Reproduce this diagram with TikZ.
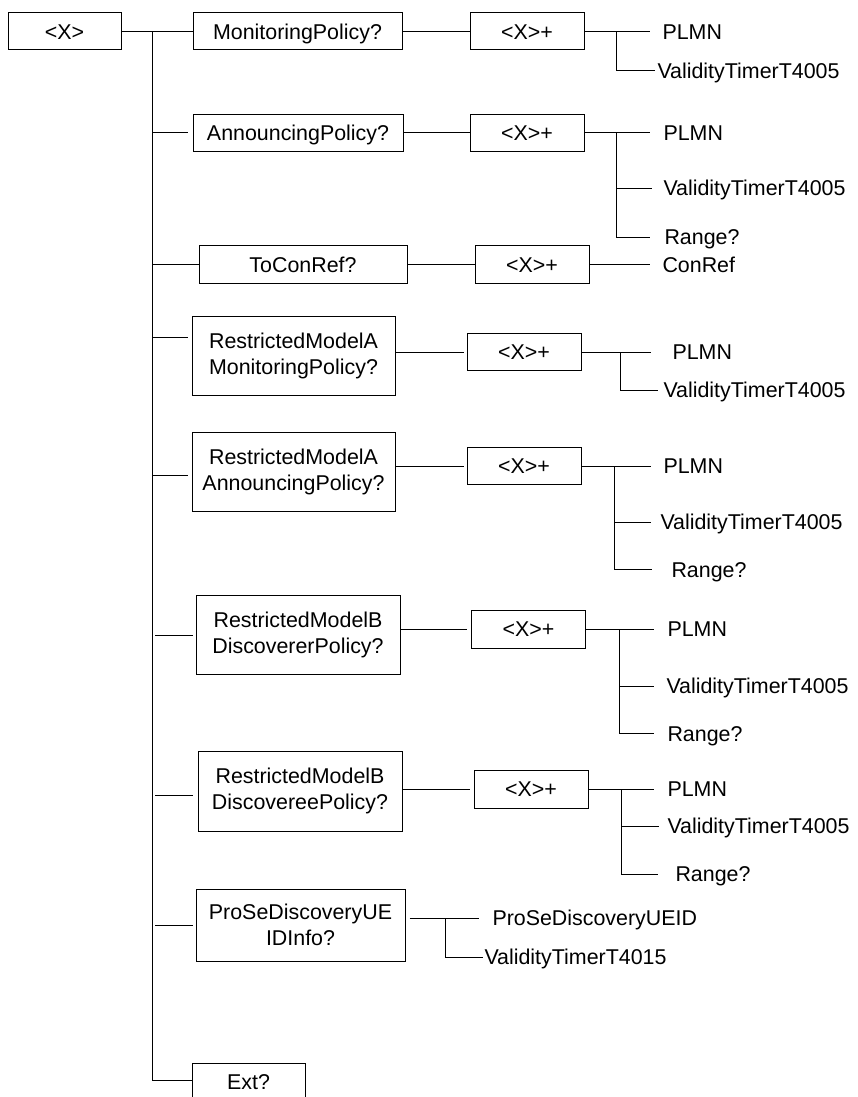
\documentclass[tikz,border=0pt]{standalone}
\usepackage{fontspec}
\setmainfont{Liberation Sans}
\newcommand{\labfont}{\fontsize{21.4pt}{26pt}\selectfont}

\begin{document}
\begin{tikzpicture}
        [x=1pt, y=-1pt, line width=1pt,
        box/.style={draw, inner sep=0pt, align=center, font=\labfont},
        single/.style={box, text height=15.3pt, text depth=0pt, minimum height=37pt},
        double/.style={box, minimum width=203pt, minimum height=79pt},
        rep/.style={single, minimum width=114pt},
        leaf/.style={anchor=west, inner ysep=0pt, inner xsep=#1, text height=15.3pt, text depth=0pt, font=\labfont},
        leaf/.default=12pt,
        stub/.style={shorten >=#1}]

        \useasboundingbox (0,0) rectangle (858,1097);

        % root and first level boxes
        \node[single, minimum width=113pt] (root) at (64.5,31.5) {<X>};
        \node[single, minimum width=209pt] (mp) at (297.5,31.5) {MonitoringPolicy?};
        \node[single, minimum width=210pt] (ap) at (298,133) {AnnouncingPolicy?};
        \node[single, minimum width=208pt, minimum height=38pt] (tc) at (303,264.5) {ToConRef?};
        \node[double] (rmam) at (293.5,355.5) {RestrictedModelA\\MonitoringPolicy?};
        \node[double] (rmaa) at (293.5,471.5) {RestrictedModelA\\AnnouncingPolicy?};
        \node[double, minimum width=204pt] (rmbr) at (298,634.5) {RestrictedModelB\\DiscovererPolicy?};
        \node[double, minimum width=204pt, minimum height=80pt] (rmbe) at (300,791) {RestrictedModelB\\DiscovereePolicy?};
        \node[double, minimum width=209pt, minimum height=72pt] (prose) at (300.5,925) {ProSeDiscoveryUE\\IDInfo?};
        \node[single, minimum width=113pt] (ext) at (248.5,1081.5) {Ext?};

        % <X>+ boxes
        \node[rep] (mpx) at (527,31.5) {<X>+};
        \node[rep] (apx) at (527,133) {<X>+};
        \node[rep, minimum height=38pt] (tcx) at (532,264.5) {<X>+};
        \node[rep] (rmamx) at (524,352) {<X>+};
        \node[rep] (rmaax) at (524,466) {<X>+};
        \node[rep, minimum height=38pt] (rmbrx) at (528.5,629) {<X>+};
        \node[rep, minimum height=38pt] (rmbex) at (531,789) {<X>+};

        % trunk points
        \coordinate (t0) at (152,31.5);
        \coordinate (t1) at (152,133);
        \coordinate (t2) at (152,264.5);
        \coordinate (t3) at (152,337);
        \coordinate (t4) at (152,475);
        \coordinate (t5) at (152,635);
        \coordinate (t6) at (152,795);
        \coordinate (t7) at (152,925);
        \coordinate (t8) at (152,1080);

        % trunk and branches
        \draw (root) -- (mp);
        \draw (t0) -- (t8) -- (t8 -| ext.west);
        \draw[stub=5pt] (t1) -- (t1 -| ap.west);
        \draw (t2) -- (t2 -| tc.west);
        \draw[stub=4pt] (t3) -- (t3 -| rmam.west);
        \draw[stub=4pt] (t4) -- (t4 -| rmaa.west);
        \draw[stub=3pt, shorten <=3pt] (t5) -- (t5 -| rmbr.west);
        \draw[stub=5pt, shorten <=3pt] (t6) -- (t6 -| rmbe.west);
        \draw[stub=3pt, shorten <=3pt] (t7) -- (t7 -| prose.west);

        % boxes to <X>+
        \draw (mp) -- (mpx);
        \draw (ap) -- (apx);
        \draw (tc) -- (tcx);
        \draw[stub=3pt] (rmam.east |- rmamx) -- (rmamx);
        \draw[stub=3pt] (rmaa.east |- rmaax) -- (rmaax);
        \draw[stub=4pt] (rmbr.east |- rmbrx) -- (rmbrx);
        \draw[stub=4pt] (rmbe.east |- rmbex) -- (rmbex);

        % MonitoringPolicy leaves
        \coordinate (mpb) at (616,31.5);
        \node[leaf] (mp1) at (650,31.5) {PLMN};
        \node[leaf=2pt] (mp2) at (655,71) {ValidityTimerT4005};
        \draw (mpx) -- (mp1);
        \draw (mpb) |- (mp2);

        % AnnouncingPolicy leaves
        \coordinate (apb) at (616,133);
        \node[leaf=13pt] (ap1) at (650,133) {PLMN};
        \node[leaf=11pt] (ap2) at (652,188) {ValidityTimerT4005};
        \node[leaf=14pt] (ap3) at (650,237) {Range?};
        \draw (apx) -- (ap1);
        \draw (apb) |- (ap2);
        \draw (apb) |- (ap3);

        % ToConRef leaf
        \node[leaf] (tc1) at (650,264.5) {ConRef};
        \draw (tcx) -- (tc1);

        % RestrictedModelA monitoring leaves
        \coordinate (rmamb) at (620,352);
        \node[leaf=21pt] (rmam1) at (651,352) {PLMN};
        \node[leaf=5pt] (rmam2) at (658,390) {ValidityTimerT4005};
        \draw (rmamx) -- (rmam1);
        \draw (rmamb) |- (rmam2);

        % RestrictedModelA announcing leaves
        \coordinate (rmaab) at (614,466);
        \node[leaf] (rmaa1) at (651,466) {PLMN};
        \node[leaf=9pt] (rmaa2) at (651,522) {ValidityTimerT4005};
        \node[leaf=19pt] (rmaa3) at (652,569.5) {Range?};
        \draw (rmaax) -- (rmaa1);
        \draw (rmaab) |- (rmaa2);
        \draw (rmaab) |- (rmaa3);

        % RestrictedModelB discoverer leaves
        \coordinate (rmbrb) at (619,629);
        \node[leaf=13pt] (rmbr1) at (654,629) {PLMN};
        \node[leaf] (rmbr2) at (654,686) {ValidityTimerT4005};
        \node[leaf=13pt] (rmbr3) at (654,733.5) {Range?};
        \draw (rmbrx) -- (rmbr1);
        \draw (rmbrb) |- (rmbr2);
        \draw (rmbrb) |- (rmbr3);

        % RestrictedModelB discoveree leaves
        \coordinate (rmbeb) at (621,789);
        \node[leaf=13pt] (rmbe1) at (654,789) {PLMN};
        \node[leaf=8pt] (rmbe2) at (659,826) {ValidityTimerT4005};
        \node[leaf=17pt] (rmbe3) at (658,874) {Range?};
        \draw (rmbex) -- (rmbe1);
        \draw (rmbeb) |- (rmbe2);
        \draw (rmbeb) |- (rmbe3);

        % ProSe discovery UE ID leaves
        \coordinate (proseb) at (445,918);
        \node[leaf=13pt] (prose1) at (479,918) {ProSeDiscoveryUEID};
        \node[leaf=1pt] (prose2) at (483,957) {ValidityTimerT4015};
        \draw[shorten <=4pt] (prose.east |- prose1) -- (prose1);
        \draw (proseb) |- (prose2);

    \end{tikzpicture}
\end{document}
